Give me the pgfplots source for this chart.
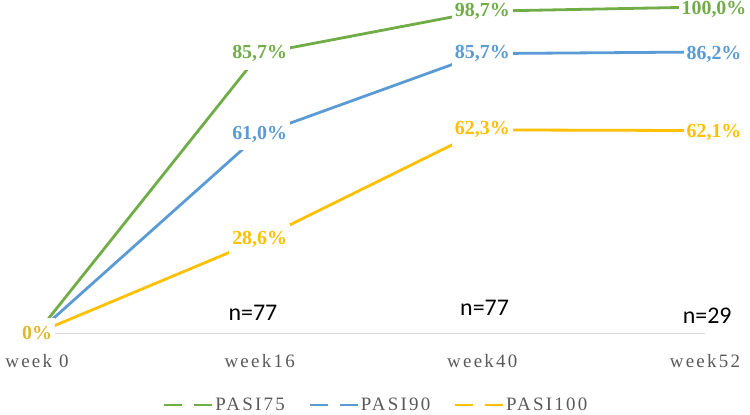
\documentclass[border=0pt]{standalone}
\usepackage{pgfplots}
\pgfplotsset{compat=1.18}
\usepackage{fontspec}
\setmainfont{Liberation Serif}
\newfontfamily\tickfont[LetterSpace=12]{Liberation Serif}
\newfontfamily\nfont{Carlito}
\definecolor{cgreen}{HTML}{70AD47}
\definecolor{cblue}{HTML}{5B9BD5}
\definecolor{corange}{HTML}{FFC000}
\definecolor{czero}{HTML}{E0B830}
\definecolor{cgray}{HTML}{595959}
\definecolor{caxis}{HTML}{D9D9D9}
\begin{document}
\begin{tikzpicture}
\useasboundingbox (-37bp,-82bp) rectangle (713bp,333bp);
\begin{axis}[
  at={(0,0)}, anchor=south west,
  scale only axis, width=668bp, height=326bp,
  xmin=0, xmax=3, ymin=0, ymax=100,
  clip=false,
  axis line style={draw=none},
  ytick=\empty,
  xtick={0,1,2,3},
  xticklabels={week 0,week16,week40,week52},
  major tick length=0pt,
  xticklabel style={font=\tickfont\fontsize{19}{22}\selectfont, text=cgray, anchor=base, yshift=-34bp},
  legend image code/.code={\draw[#1] (0bp,0bp) -- (18bp,0bp); \draw[#1] (30bp,0bp) -- (48bp,0bp);},
  legend style={at={(0.5075,-0.221)}, anchor=center, draw=none, fill=none,
    font=\tickfont\fontsize{19}{22}\selectfont, text=cgray,
    /tikz/every even column/.append style={column sep=22bp},
    nodes={inner sep=1.5bp}},
  legend columns=3,
  every axis plot/.append style={line width=2.8bp},
  nodes near coords,
  point meta=explicit symbolic,
  nodes near coords style={font=\fontsize{20}{24}\selectfont\bfseries, fill=white, inner xsep=3bp, inner ysep=8bp, anchor=center},
  coordinate style/.condition={x==3}{xshift=9bp, yshift=-2bp},
]
\draw[caxis, line width=1bp] (axis cs:0,0) -- (axis cs:3,0);
\addplot[cgreen, no markers, every node near coord/.append style={text=cgreen}, forget plot]
  coordinates {(0,0) [] (1,85.7) [85,7\%] (2,98.7) [98,7\%] (3,100.0) [100,0\%]};
\addplot[cblue, no markers, every node near coord/.append style={text=cblue}, forget plot]
  coordinates {(0,0) [] (1,61.0) [61,0\%] (2,85.7) [85,7\%] (3,86.2) [86,2\%]};
\addplot[corange, no markers, every node near coord/.append style={text=corange}, forget plot]
  coordinates {(0,0) [] (1,28.6) [28,6\%] (2,62.3) [62,3\%] (3,62.1) [62,1\%]};
\addplot[corange, no markers, every node near coord/.append style={text=czero}, forget plot]
  coordinates {(0,0) [0\%]};
\addlegendimage{cgreen, line width=2.8bp}
\addlegendentry{PASI75}
\addlegendimage{cblue, line width=2.8bp}
\addlegendentry{PASI90}
\addlegendimage{corange, line width=2.8bp}
\addlegendentry{PASI100}
\node[font=\nfont\fontsize{24}{28}\selectfont, text=black] at (axis cs:0.97,6.13) {n=77};
\node[font=\nfont\fontsize{24}{28}\selectfont, text=black] at (axis cs:2.01,7.67) {n=77};
\node[font=\nfont\fontsize{24}{28}\selectfont, text=black] at (axis cs:3.01,5.2) {n=29};
\end{axis}
\end{tikzpicture}
\end{document}
